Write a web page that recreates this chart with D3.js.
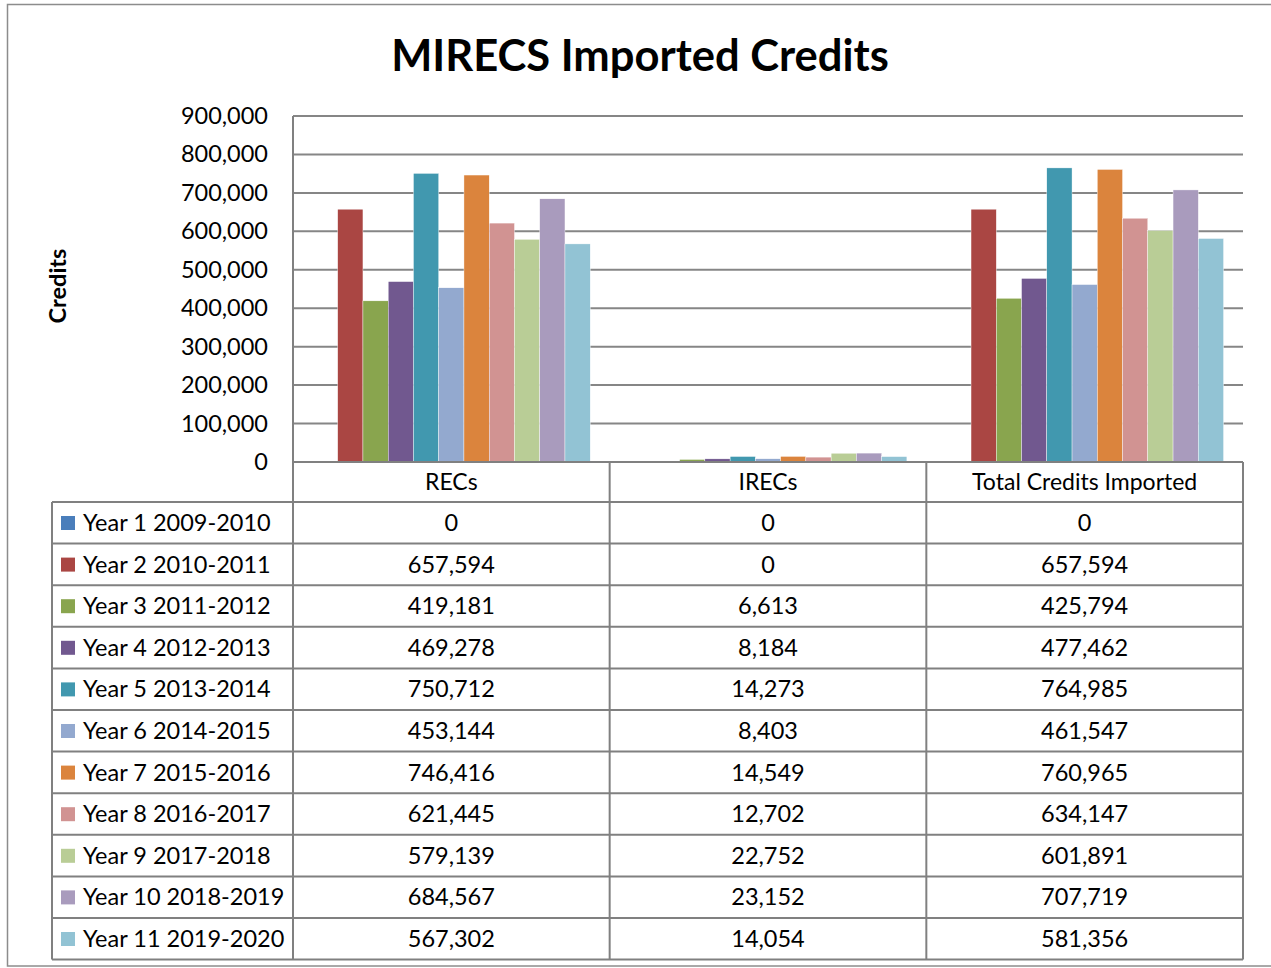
<!DOCTYPE html>
<html>
<head>
<meta charset="utf-8">
<script src="https://cdnjs.cloudflare.com/ajax/libs/d3/7.8.5/d3.min.js"></script>
<style>
  body { margin: 0; background: #fff; }
  text { font-family: Lato, "Open Sans", sans-serif; fill: #000; }
</style>
</head>
<body>
<div id="chart"></div>
<script>
// chart data
var categories = ["RECs", "IRECs", "Total Credits Imported"];
var years = ["Year 1 2009-2010", "Year 2 2010-2011", "Year 3 2011-2012", "Year 4 2012-2013",
             "Year 5 2013-2014", "Year 6 2014-2015", "Year 7 2015-2016", "Year 8 2016-2017",
             "Year 9 2017-2018", "Year 10 2018-2019", "Year 11 2019-2020"];
var recs   = [0, 657594, 419181, 469278, 750712, 453144, 746416, 621445, 579139, 684567, 567302];
var irecs  = [0, 0, 6613, 8184, 14273, 8403, 14549, 12702, 22752, 23152, 14054];
var totals = [0, 657594, 425794, 477462, 764985, 461547, 760965, 634147, 601891, 707719, 581356];
var yTicks = [0, 100000, 200000, 300000, 400000, 500000, 600000, 700000, 800000, 900000];
var colors = ["#4a7ebb", "#aa4643", "#89a54e", "#71588f", "#4198af", "#93a9cf",
              "#db843d", "#d19392", "#b9cd96", "#a99bbd", "#92c3d4"];

var seriesByCat = [recs, irecs, totals];

var W = 1271, H = 968;
var plot = {left: 293, right: 1243, top: 116, bottom: 462};
var rowH = 41.6, headH = 40, tableLeft = 52;
var fs = 23.5;

var svg = d3.select("#chart").append("svg")
    .attr("width", W).attr("height", H);

// outer frame
svg.append("rect")
    .attr("x", 7.5).attr("y", 4.5).attr("width", W + 10).attr("height", 961.5)
    .attr("fill", "none").attr("stroke", "#8c8c8c").attr("stroke-width", 1.5);

// title
svg.append("text")
    .attr("x", 640).attr("y", 71)
    .attr("text-anchor", "middle")
    .attr("font-size", 43.5).attr("font-weight", "bold")
    .text("MIRECS Imported Credits");

var y = d3.scaleLinear().domain([0, 900000]).range([plot.bottom, plot.top]);
var x0 = d3.scaleBand().domain(categories).range([plot.left, plot.right]);
var x1 = d3.scaleBand().domain(d3.range(years.length))
    .range([0, x0.bandwidth()]).paddingOuter(0.77);

// gridlines
svg.append("g").selectAll("line")
    .data(yTicks.slice(1))
    .enter().append("line")
    .attr("x1", plot.left).attr("x2", plot.right)
    .attr("y1", function(d){ return y(d); }).attr("y2", function(d){ return y(d); })
    .attr("stroke", "#868686").attr("stroke-width", 2);

// y axis labels
var fmt = d3.format(",");
svg.append("g").selectAll("text")
    .data(yTicks)
    .enter().append("text")
    .attr("x", 268).attr("y", function(d){ return y(d) + 8; })
    .attr("text-anchor", "end")
    .attr("font-size", fs)
    .text(function(d){ return fmt(d); });

svg.append("text")
    .attr("transform", "translate(66,286) rotate(-90)")
    .attr("text-anchor", "middle")
    .attr("font-size", 23.5).attr("font-weight", "bold")
    .text("Credits");

// bars
var groups = svg.append("g").selectAll("g")
    .data(categories)
    .enter().append("g")
    .attr("transform", function(d){ return "translate(" + x0(d) + ",0)"; });

groups.selectAll("rect")
    .data(function(d, i){ return seriesByCat[i]; })
    .enter().append("rect")
    .attr("x", function(d, i){ return x1(i); })
    .attr("width", x1.bandwidth())
    .attr("y", function(d){ return y(d); })
    .attr("height", function(d){ return plot.bottom - y(d); })
    .attr("fill", function(d, i){ return colors[i]; })
    .attr("stroke", "#fff").attr("stroke-width", 0.4);

// data table
var tbl = svg.append("g");
var lineColor = "#808080";
var tableBottom = plot.bottom + headH + years.length * rowH;

tbl.append("line")
    .attr("x1", plot.left).attr("x2", plot.right)
    .attr("y1", plot.bottom).attr("y2", plot.bottom)
    .attr("stroke", lineColor).attr("stroke-width", 2);
tbl.selectAll("line.row")
    .data(d3.range(years.length + 1))
    .enter().append("line").attr("class", "row")
    .attr("x1", tableLeft).attr("x2", plot.right)
    .attr("y1", function(i){ return plot.bottom + headH + i * rowH; })
    .attr("y2", function(i){ return plot.bottom + headH + i * rowH; })
    .attr("stroke", lineColor).attr("stroke-width", 2);
tbl.append("line")
    .attr("x1", tableLeft).attr("x2", tableLeft)
    .attr("y1", plot.bottom + headH).attr("y2", tableBottom)
    .attr("stroke", lineColor).attr("stroke-width", 2);
tbl.append("line")
    .attr("x1", plot.left).attr("x2", plot.left)
    .attr("y1", plot.top).attr("y2", tableBottom)
    .attr("stroke", lineColor).attr("stroke-width", 2);
tbl.selectAll("line.col")
    .data(categories)
    .enter().append("line").attr("class", "col")
    .attr("x1", function(d){ return x0(d) + x0.bandwidth(); })
    .attr("x2", function(d){ return x0(d) + x0.bandwidth(); })
    .attr("y1", plot.bottom).attr("y2", tableBottom)
    .attr("stroke", lineColor).attr("stroke-width", 2);

// header labels
tbl.selectAll("text.head")
    .data(categories)
    .enter().append("text").attr("class", "head")
    .attr("x", function(d){ return x0(d) + x0.bandwidth() / 2; })
    .attr("y", plot.bottom + 28)
    .attr("text-anchor", "middle").attr("font-size", 23)
    .text(function(d){ return d; });

// legend column
var rows = tbl.selectAll("g.yr")
    .data(years)
    .enter().append("g").attr("class", "yr")
    .attr("transform", function(d, i){ return "translate(0," + (plot.bottom + headH + i * rowH) + ")"; });
rows.append("rect")
    .attr("x", 61).attr("y", 14).attr("width", 14).attr("height", 14)
    .attr("fill", function(d, i){ return colors[i]; });
rows.append("text")
    .attr("x", 83).attr("y", 29)
    .attr("font-size", fs)
    .text(function(d){ return d; });

// values
categories.forEach(function(c, ci){
    rows.append("text")
        .attr("x", x0(c) + x0.bandwidth() / 2).attr("y", 29)
        .attr("text-anchor", "middle").attr("font-size", fs)
        .text(function(d, i){ return fmt(seriesByCat[ci][i]); });
});
</script>
</body>
</html>
